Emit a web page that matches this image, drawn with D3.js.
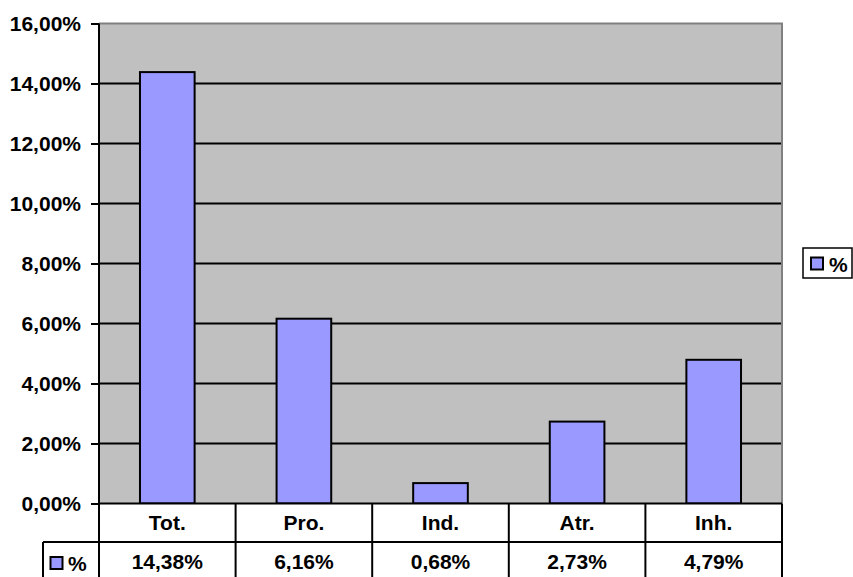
<!DOCTYPE html>
<html><head><meta charset="utf-8">
<script src="https://cdn.jsdelivr.net/npm/d3@7"></script>
<style>html,body{margin:0;padding:0;background:#fff}svg{display:block;font-family:"Liberation Sans",Arial,sans-serif;font-weight:bold}</style>
</head><body>
<svg id="c" width="853" height="577"></svg>
<script>
const categories = ["Tot.", "Pro.", "Ind.", "Atr.", "Inh."];
const values = [14.38, 6.16, 0.68, 2.73, 4.79];
const seriesName = "%";
const tickValues = [0, 2, 4, 6, 8, 10, 12, 14, 16];

const loc = d3.formatLocale({decimal: ",", thousands: ".", grouping: [3], currency: ["", "€"]});
const fmt = v => loc.format(".2f")(v) + "%";

const svg = d3.select("#c");
const L = 99, R = 782, T = 23.5, B = 503.5;
const rowH = 38.5;
const fs = 21;

const x = d3.scaleBand().domain(categories).range([L, R]).paddingInner(0).paddingOuter(0);
const y = d3.scaleLinear().domain([0, 16]).range([B, T]);

// plot background
svg.append("rect").attr("x", L).attr("y", T).attr("width", R - L).attr("height", B - T).attr("fill", "#c0c0c0");

// gridlines
svg.append("g").selectAll("line").data(tickValues.filter(d => d > 0 && d < 16)).join("line")
  .attr("x1", L).attr("x2", R).attr("y1", d => y(d)).attr("y2", d => y(d))
  .attr("stroke", "#000").attr("stroke-width", 2);

// plot border top/right
svg.append("path").attr("d", `M${L},${T}H${R}V${B}`).attr("fill", "none").attr("stroke", "#808080").attr("stroke-width", 2);

// bars
const bw = x.bandwidth() * 0.4;
svg.append("g").selectAll("rect").data(values).join("rect")
  .attr("x", (d, i) => x(categories[i]) + (x.bandwidth() - bw) / 2)
  .attr("y", d => y(d))
  .attr("width", bw)
  .attr("height", d => B - y(d))
  .attr("fill", "#9999ff").attr("stroke", "#000").attr("stroke-width", 2);

// y axis
const yAxis = d3.axisLeft(y).tickValues(tickValues).tickFormat(fmt).tickSize(8).tickPadding(10);
const ga = svg.append("g").attr("transform", `translate(${L},0)`).call(yAxis);
ga.select(".domain").remove();
ga.selectAll(".tick line").attr("stroke", "#000").attr("stroke-width", 2);
ga.selectAll(".tick text").attr("font-size", fs).attr("font-weight", "bold").attr("fill", "#000")
  .attr("font-family", "'Liberation Sans',Arial,sans-serif");

// data table
const tb = svg.append("g");
const r1 = B, r2 = B + rowH, r3 = B + 2 * rowH;
const keyL = 43;
tb.append("rect").attr("x", L).attr("y", r1).attr("width", R - L).attr("height", rowH).attr("fill", "#fff");
tb.append("rect").attr("x", keyL).attr("y", r2).attr("width", R - keyL).attr("height", rowH + 5).attr("fill", "#fff");
const lines = [];
lines.push([L, r1, R, r1]);
lines.push([keyL, r2, R, r2]);
lines.push([L, T, L, 600]);
lines.push([keyL, r2, keyL, 600]);
categories.forEach(c => { lines.push([x(c) + x.bandwidth(), r1, x(c) + x.bandwidth(), 600]); });
tb.selectAll("line").data(lines).join("line")
  .attr("x1", d => d[0]).attr("y1", d => d[1]).attr("x2", d => d[2]).attr("y2", d => d[3])
  .attr("stroke", "#000").attr("stroke-width", 2);

tb.selectAll("text.cat").data(categories).join("text").attr("class", "cat")
  .attr("x", d => x(d) + x.bandwidth() / 2).attr("y", (r1 + r2) / 2)
  .attr("text-anchor", "middle").attr("dominant-baseline", "central")
  .attr("font-size", fs).text(d => d);
tb.selectAll("text.val").data(values).join("text").attr("class", "val")
  .attr("x", (d, i) => x(categories[i]) + x.bandwidth() / 2).attr("y", (r2 + r3) / 2)
  .attr("text-anchor", "middle").attr("dominant-baseline", "central")
  .attr("font-size", fs).text(d => fmt(d));

// table legend key
tb.append("rect").attr("x", 50.5).attr("y", 557).attr("width", 12).attr("height", 12)
  .attr("fill", "#9999ff").attr("stroke", "#000").attr("stroke-width", 2);
tb.append("text").attr("x", 68).attr("y", 563.5).attr("dominant-baseline", "central")
  .attr("font-size", fs).text(seriesName);

// legend right
const lg = svg.append("g");
lg.append("rect").attr("x", 803).attr("y", 248).attr("width", 49).attr("height", 30)
  .attr("fill", "#fff").attr("stroke", "#000").attr("stroke-width", 1.5);
lg.append("rect").attr("x", 811).attr("y", 257.5).attr("width", 12).attr("height", 12)
  .attr("fill", "#9999ff").attr("stroke", "#000").attr("stroke-width", 2);
lg.append("text").attr("x", 829).attr("y", 264).attr("dominant-baseline", "central")
  .attr("font-size", fs).text(seriesName);
</script>
</body></html>
